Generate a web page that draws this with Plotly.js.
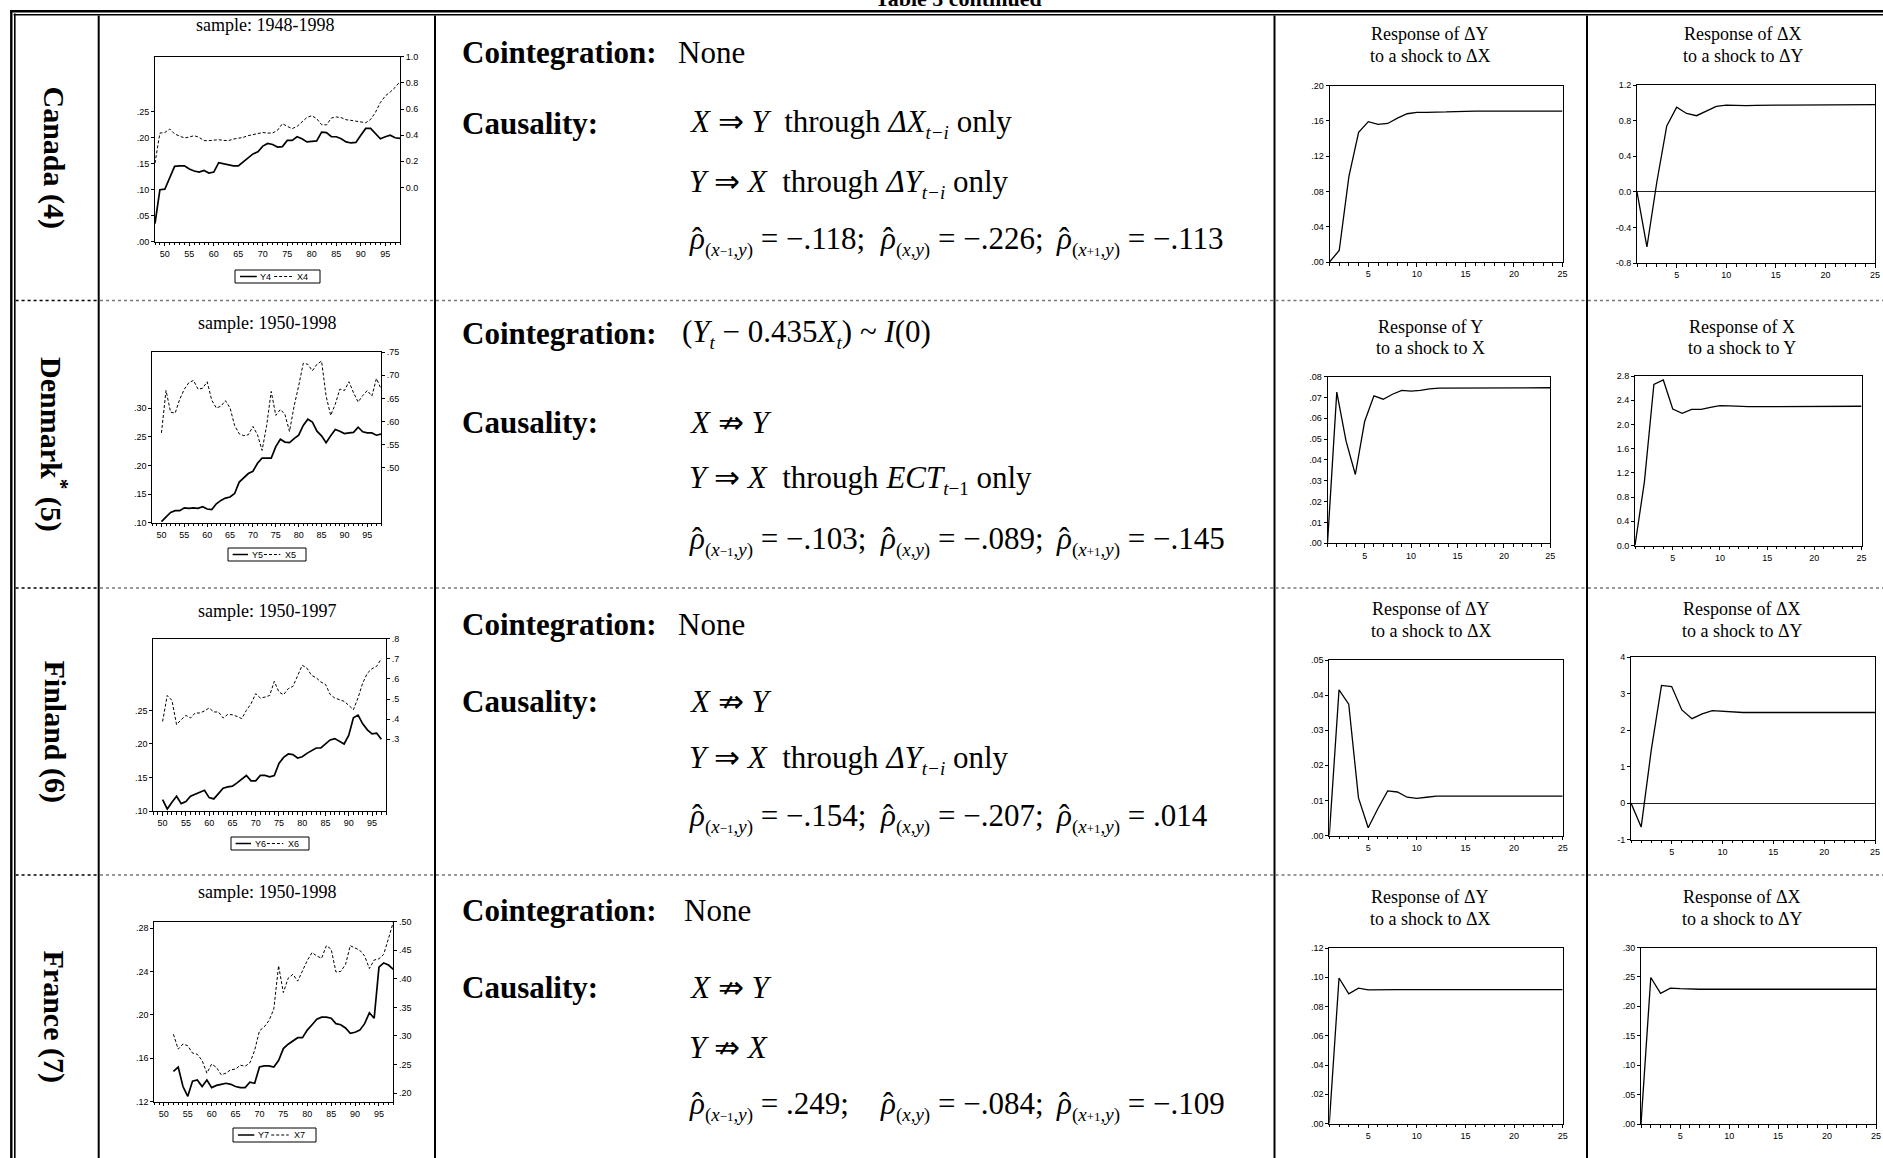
<!DOCTYPE html>
<html><head><meta charset="utf-8">
<script src="https://cdn.plot.ly/plotly-3.0.1.min.js"></script>
<style>html,body{margin:0;padding:0;background:#fff}</style>
</head><body>
<div id="chart" style="width:1883px;height:1158px"></div>
<script>
// ---------------- DATA ----------------
const countryLabels = ['Canada (4)', 'Denmark<sup>*</sup> (5)', 'Finland (6)', 'France (7)'];
const sampleLabels = ['sample: 1948-1998', 'sample: 1950-1998', 'sample: 1950-1997', 'sample: 1950-1998'];
const seriesNames = [['Y4','X4'],['Y5','X5'],['Y6','X6'],['Y7','X7']];

// Canada (first year 48)
const canadaStart = 48;
const canadaY4 = [0.035,0.100,0.101,0.123,0.145,0.146,0.146,0.140,0.136,0.134,
  0.137,0.132,0.134,0.152,0.150,0.147,0.146,0.146,0.154,0.161,
  0.169,0.173,0.184,0.189,0.187,0.182,0.183,0.195,0.195,0.202,
  0.198,0.192,0.193,0.194,0.211,0.210,0.202,0.202,0.198,0.192,
  0.190,0.191,0.205,0.218,0.218,0.208,0.198,0.202,0.205,0.200,0.199];
const canadaX4 = [0.186,0.416,0.420,0.447,0.409,0.396,0.378,0.386,0.396,0.383,
  0.358,0.358,0.360,0.365,0.360,0.358,0.370,0.375,0.383,0.396,
  0.404,0.416,0.420,0.416,0.416,0.437,0.488,0.467,0.450,0.467,
  0.498,0.535,0.549,0.526,0.480,0.478,0.531,0.539,0.534,0.518,
  0.513,0.506,0.498,0.495,0.520,0.575,0.650,0.700,0.730,0.765,0.810];

// Denmark (first year 50)
const denmarkStart = 50;
const denmarkY5 = [0.102,0.110,0.118,0.121,0.121,0.126,0.125,0.126,0.125,0.128,
  0.124,0.123,0.133,0.139,0.143,0.145,0.151,0.171,0.178,0.186,
  0.190,0.204,0.213,0.213,0.213,0.233,0.246,0.241,0.240,0.247,
  0.253,0.270,0.281,0.276,0.260,0.252,0.240,0.252,0.263,0.260,
  0.256,0.257,0.258,0.267,0.259,0.257,0.257,0.253,0.255];
const denmarkX5 = [0.575,0.667,0.620,0.618,0.648,0.670,0.684,0.689,0.670,0.672,
  0.686,0.646,0.629,0.633,0.645,0.629,0.591,0.573,0.569,0.571,
  0.589,0.571,0.537,0.591,0.665,0.613,0.626,0.615,0.578,0.633,
  0.677,0.726,0.724,0.710,0.724,0.731,0.655,0.613,0.637,0.670,
  0.667,0.686,0.662,0.642,0.656,0.667,0.655,0.693,0.671];

// Finland (first year 50)
const finlandStart = 50;
const finlandY6 = [0.117,0.103,0.113,0.122,0.111,0.114,0.122,0.125,0.127,0.131,
  0.120,0.118,0.126,0.134,0.136,0.137,0.142,0.148,0.153,0.145,
  0.145,0.153,0.153,0.151,0.153,0.171,0.180,0.185,0.184,0.179,
  0.181,0.186,0.190,0.194,0.194,0.200,0.206,0.208,0.204,0.200,
  0.213,0.239,0.243,0.230,0.221,0.215,0.216,0.207];
const finlandX6 = [0.389,0.518,0.494,0.373,0.398,0.419,0.406,0.431,0.431,0.441,
  0.456,0.436,0.436,0.406,0.424,0.422,0.414,0.403,0.444,0.477,
  0.527,0.505,0.510,0.518,0.588,0.535,0.522,0.552,0.563,0.613,
  0.668,0.654,0.618,0.606,0.585,0.573,0.523,0.505,0.497,0.489,
  0.469,0.447,0.507,0.580,0.629,0.651,0.663,0.701];

// France (first year 52)
const franceStart = 52;
const franceY7 = [0.148,0.152,0.134,0.125,0.139,0.140,0.134,0.140,0.133,0.135,
  0.136,0.137,0.136,0.134,0.133,0.133,0.138,0.137,0.152,0.153,
  0.153,0.152,0.158,0.169,0.173,0.176,0.179,0.179,0.186,0.191,
  0.196,0.198,0.198,0.197,0.192,0.191,0.188,0.183,0.184,0.186,
  0.192,0.202,0.197,0.244,0.248,0.246,0.242];
const franceX7 = [0.303,0.277,0.286,0.283,0.270,0.268,0.257,0.235,0.251,0.245,
  0.232,0.235,0.241,0.242,0.249,0.247,0.253,0.275,0.309,0.316,
  0.327,0.347,0.423,0.376,0.401,0.408,0.396,0.414,0.432,0.446,
  0.440,0.436,0.458,0.452,0.412,0.413,0.425,0.458,0.454,0.450,
  0.440,0.418,0.433,0.435,0.443,0.470,0.499];

// Impulse responses, periods 1..25
const irfTitles = [
  [['Response of ΔY','to a shock to ΔX'],['Response of ΔX','to a shock to ΔY']],
  [['Response of Y','to a shock to X'],['Response of X','to a shock to Y']],
  [['Response of ΔY','to a shock to ΔX'],['Response of ΔX','to a shock to ΔY']],
  [['Response of ΔY','to a shock to ΔX'],['Response of ΔX','to a shock to ΔY']]
];
const irfCanadaYX = [0,0.013,0.097,0.147,0.159,0.156,0.157,0.163,0.168,0.1695,0.1695,0.1695,0.170,0.1705,0.171,0.171,0.171,0.171,0.171,0.171,0.171,0.171,0.171,0.171,0.171];
const irfCanadaXY = [0,-0.62,0.11,0.74,0.95,0.88,0.855,0.91,0.96,0.975,0.97,0.968,0.97,0.975,0.975,0.975,0.975,0.975,0.975,0.98,0.98,0.98,0.978,0.98,0.98];
const irfDenmarkYX = [0,0.0725,0.049,0.033,0.0584,0.0707,0.0691,0.0715,0.0733,0.0730,0.0733,0.0741,0.0744,0.0744,0.0746,0.0746,0.0746,0.0746,0.0746,0.0746,0.0746,0.0746,0.0746,0.0746,0.0746];
const irfDenmarkXY = [0,1.056,2.662,2.734,2.255,2.184,2.25,2.25,2.283,2.31,2.305,2.294,2.294,2.294,2.294,2.294,2.305,2.294,2.294,2.30,2.30,2.30,2.30,2.30,2.30];
const irfFinlandYX = [0,0.0415,0.0374,0.0107,0.0022,0.0077,0.0127,0.0124,0.0109,0.0106,0.0109,0.0112,0.0112,0.0112,0.0112,0.0112,0.0112,0.0112,0.0112,0.0112,0.0112,0.0112,0.0112,0.0112,0.0112];
const irfFinlandXY = [0,-0.66,1.46,3.22,3.19,2.55,2.31,2.44,2.53,2.51,2.48,2.48,2.48,2.48,2.48,2.48,2.48,2.48,2.48,2.48,2.48,2.48,2.48,2.48,2.48];
const irfFranceYX = [0,0.0995,0.0886,0.0925,0.0914,0.0916,0.0916,0.0916,0.0916,0.0916,0.0916,0.0916,0.0916,0.0916,0.0916,0.0916,0.0916,0.0916,0.0916,0.0916,0.0916,0.0916,0.0916,0.0916,0.0916];
const irfFranceXY = [0,0.249,0.222,0.231,0.230,0.229,0.229,0.229,0.229,0.229,0.229,0.229,0.229,0.229,0.229,0.229,0.229,0.229,0.229,0.229,0.229,0.229,0.229,0.229,0.229];

// Tick labels
const tvCanadaL = [0,0.05,0.10,0.15,0.20,0.25], ttCanadaL = ['.00','.05','.10','.15','.20','.25'];
const tvCanadaR = [0,0.2,0.4,0.6,0.8,1.0], ttCanadaR = ['0.0','0.2','0.4','0.6','0.8','1.0'];
const tvDenmarkL = [0.10,0.15,0.20,0.25,0.30], ttDenmarkL = ['.10','.15','.20','.25','.30'];
const tvDenmarkR = [0.50,0.55,0.60,0.65,0.70,0.75], ttDenmarkR = ['.50','.55','.60','.65','.70','.75'];
const tvFinlandL = [0.10,0.15,0.20,0.25], ttFinlandL = ['.10','.15','.20','.25'];
const tvFinlandR = [0.3,0.4,0.5,0.6,0.7,0.8], ttFinlandR = ['.3','.4','.5','.6','.7','.8'];
const tvFranceL = [0.12,0.16,0.20,0.24,0.28], ttFranceL = ['.12','.16','.20','.24','.28'];
const tvFranceR = [0.20,0.25,0.30,0.35,0.40,0.45,0.50], ttFranceR = ['.20','.25','.30','.35','.40','.45','.50'];

const tvIrfCA1 = [0,0.04,0.08,0.12,0.16,0.20], ttIrfCA1 = ['.00','.04','.08','.12','.16','.20'];
const tvIrfCA2 = [-0.8,-0.4,0,0.4,0.8,1.2], ttIrfCA2 = ['-0.8','-0.4','0.0','0.4','0.8','1.2'];
const tvIrfDK1 = [0,0.01,0.02,0.03,0.04,0.05,0.06,0.07,0.08], ttIrfDK1 = ['.00','.01','.02','.03','.04','.05','.06','.07','.08'];
const tvIrfDK2 = [0,0.4,0.8,1.2,1.6,2.0,2.4,2.8], ttIrfDK2 = ['0.0','0.4','0.8','1.2','1.6','2.0','2.4','2.8'];
const tvIrfFI1 = [0,0.01,0.02,0.03,0.04,0.05], ttIrfFI1 = ['.00','.01','.02','.03','.04','.05'];
const tvIrfFI2 = [-1,0,1,2,3,4], ttIrfFI2 = ['-1','0','1','2','3','4'];
const tvIrfFR1 = [0,0.02,0.04,0.06,0.08,0.10,0.12], ttIrfFR1 = ['.00','.02','.04','.06','.08','.10','.12'];
const tvIrfFR2 = [0,0.05,0.10,0.15,0.20,0.25,0.30], ttIrfFR2 = ['.00','.05','.10','.15','.20','.25','.30'];

// Text of the middle column
const NB = '\u00A0';
function sb(t){return '<sub><span style="font-size:19px">'+t+'</span></sub>';}
function sbs(t){return '<span style="font-size:13px">'+t+'</span>';}
const rhoSubs = [sb('(<i>x</i>'+sbs('−1')+',<i>y</i>)'), sb('(<i>x</i>,<i>y</i>)'), sb('(<i>x</i>'+sbs('+1')+',<i>y</i>)')];
const rhoValues = [['−.118','−.226','−.113'], ['−.103','−.089','−.145'], ['−.154','−.207','.014'], ['.249','−.084','−.109']];
const cointText = ['None', '(<i>Y</i>'+sb('<i>t</i>')+' − 0.435<i>X</i>'+sb('<i>t</i>')+') ~ <i>I</i>(0)', 'None', 'None'];
const causLine1 = [
  '<i>X</i> ⇒ <i>Y</i>'+NB+NB+'through <i>ΔX</i>'+sb('<i>t−i</i>')+' only',
  '<i>X</i> ⇏ <i>Y</i>',
  '<i>X</i> ⇏ <i>Y</i>',
  '<i>X</i> ⇏ <i>Y</i>'];
const causLine2 = [
  '<i>Y</i> ⇒ <i>X</i>'+NB+NB+'through <i>ΔY</i>'+sb('<i>t−i</i>')+' only',
  '<i>Y</i> ⇒ <i>X</i>'+NB+NB+'through <i>ECT</i>'+sb('<i>t</i>−1')+' only',
  '<i>Y</i> ⇒ <i>X</i>'+NB+NB+'through <i>ΔY</i>'+sb('<i>t−i</i>')+' only',
  '<i>Y</i> ⇏ <i>X</i>'];

// ---------------- LAYOUT ----------------
const W = 1883, H = 1158;
const SERIF = 'Liberation Serif, Times New Roman, serif';
const SANS = 'Liberation Sans, Arial, sans-serif';
function px(x){return x/W;}
function py(y){return 1 - y/H;}

const layout = {
  width: W, height: H, margin:{l:0,r:0,t:0,b:0},
  paper_bgcolor:'#ffffff', plot_bgcolor:'rgba(0,0,0,0)', showlegend:false,
  font:{family:SANS, size:9, color:'#000'},
  annotations:[], shapes:[]
};
const traces = [];
let xi = 0, yi = 0;
function nextX(){xi++; return xi===1?['xaxis','x']:['xaxis'+xi,'x'+xi];}
function nextY(){yi++; return yi===1?['yaxis','y']:['yaxis'+yi,'y'+yi];}
function axisBase(){
  return {showgrid:false, zeroline:false, showline:true, linecolor:'#000', linewidth:1, mirror:true,
    ticks:'outside', ticklen:4, tickwidth:1, tickcolor:'#000', tickfont:{size:9, family:SANS, color:'#000'},
    fixedrange:true};
}
function ann(x,y,text,o){
  layout.annotations.push(Object.assign({xref:'paper', yref:'paper', x:px(x), y:py(y), text:text,
    showarrow:false, xanchor:'center', yanchor:'middle', font:{family:SERIF, size:18, color:'#000'}}, o||{}));
}
function line(x0,y0,x1,y1,w,c,dash){
  layout.shapes.push({type:'line', xref:'paper', yref:'paper', x0:px(x0), y0:py(y0), x1:px(x1), y1:py(y1),
    line:{color:c||'#000', width:w, dash:dash||'solid'}});
}
function periods(arr, start){return arr.map((_,i)=>start+i);}

function seriesChart(box, start, Y, X, lRange, ltv, ltt, rRange, rtv, rtt){
  const [xn, xid] = nextX(); const [yln, ylid] = nextY(); const [yrn, yrid] = nextY();
  layout[xn] = Object.assign(axisBase(), {domain:[px(box[0]),px(box[1])], anchor:ylid, range:[48,98],
    tickmode:'linear', tick0:50, dtick:5, ticklen:3.5,
    minor:{tick0:48, dtick:1, ticks:'outside', ticklen:2.5, tickcolor:'#000', tickwidth:1, showgrid:false}});
  layout[yln] = Object.assign(axisBase(), {domain:[py(box[3]),py(box[2])], anchor:xid, range:lRange,
    tickmode:'array', tickvals:ltv, ticktext:ltt, ticklen:3});
  layout[yrn] = Object.assign(axisBase(), {overlaying:ylid, side:'right', anchor:xid, range:rRange,
    tickmode:'array', tickvals:rtv, ticktext:rtt, mirror:false, ticklen:3});
  traces.push({type:'scatter', mode:'lines', x:periods(Y, start), y:Y, xaxis:xid, yaxis:ylid,
    line:{color:'#000', width:1.7}, hoverinfo:'skip'});
  traces.push({type:'scatter', mode:'lines', x:periods(X, start), y:X, xaxis:xid, yaxis:yrid,
    line:{color:'#000', width:1, dash:'3px,2px'}, hoverinfo:'skip'});
}
function irfChart(box, vals, yRange, tv, tt, zero){
  const [xn, xid] = nextX(); const [yn, yid] = nextY();
  layout[xn] = Object.assign(axisBase(), {domain:[px(box[0]),px(box[1])], anchor:yid, range:[1,25],
    tickmode:'linear', tick0:0, dtick:5, ticklen:3.5,
    minor:{tick0:0, dtick:1, ticks:'outside', ticklen:2.5, tickcolor:'#000', tickwidth:1, showgrid:false}});
  layout[yn] = Object.assign(axisBase(), {domain:[py(box[3]),py(box[2])], anchor:xid, range:yRange,
    tickmode:'array', tickvals:tv, ticktext:tt, ticklen:3,
    zeroline:!!zero, zerolinecolor:'#222', zerolinewidth:1});
  traces.push({type:'scatter', mode:'lines', x:periods(vals,1), y:vals, xaxis:xid, yaxis:yid,
    line:{color:'#000', width:1.3}, hoverinfo:'skip'});
}
function legendBox(x0,x1,y0,y1,names){
  const w = x1-x0, yc = (y0+y1)/2, s = w/76;
  layout.shapes.push({type:'rect', xref:'paper', yref:'paper', x0:px(x0), x1:px(x1), y0:py(y0), y1:py(y1),
    line:{color:'#000', width:1}, fillcolor:'rgba(0,0,0,0)'});
  line(x0+4.5*s, yc, x0+19.5*s, yc, 1.5, '#000');
  ann(x0+21*s, yc, names[0], {xanchor:'left', font:{family:SANS, size:9, color:'#000'}});
  line(x0+35*s, yc, x0+51*s, yc, 1, '#000', '3px,2px');
  ann(x0+54*s, yc, names[1], {xanchor:'left', font:{family:SANS, size:9, color:'#000'}});
}

// Left series charts
const seriesBoxes = [[155,400,56.7,241.7],[152.3,381,352.3,522.7],[153.3,386,638.7,811],[154.3,393.3,921.7,1101.7]];
seriesChart(seriesBoxes[0], canadaStart, canadaY4, canadaX4, [0,0.356], tvCanadaL, ttCanadaL, [-0.415,1.0], tvCanadaR, ttCanadaR);
seriesChart(seriesBoxes[1], denmarkStart, denmarkY5, denmarkX5, [0.10,0.398], tvDenmarkL, ttDenmarkL, [0.380,0.75], tvDenmarkR, ttDenmarkR);
seriesChart(seriesBoxes[2], finlandStart, finlandY6, finlandX6, [0.10,0.357], tvFinlandL, ttFinlandL, [-0.056,0.8], tvFinlandR, ttFinlandR);
seriesChart(seriesBoxes[3], franceStart, franceY7, franceX7, [0.12,0.286], tvFranceL, ttFranceL, [0.185,0.50], tvFranceR, ttFranceR);

// IRF charts
irfChart([1329.5,1562.5,85.5,262], irfCanadaYX, [0,0.20], tvIrfCA1, ttIrfCA1, false);
irfChart([1637,1875,85,263], irfCanadaXY, [-0.8,1.2], tvIrfCA2, ttIrfCA2, true);
irfChart([1327.5,1550.3,376.5,543.3], irfDenmarkYX, [0,0.08], tvIrfDK1, ttIrfDK1, false);
irfChart([1635,1861.5,376,545.5], irfDenmarkXY, [0,2.8], tvIrfDK2, ttIrfDK2, false);
irfChart([1329.3,1562.7,660,835.5], irfFinlandYX, [0,0.05], tvIrfFI1, ttIrfFI1, false);
irfChart([1631,1875,657,839.5], irfFinlandXY, [-1,4], tvIrfFI2, ttIrfFI2, true);
irfChart([1329.3,1562.7,948,1123.5], irfFranceYX, [0,0.12], tvIrfFR1, ttIrfFR1, false);
irfChart([1641,1876,947.5,1124], irfFranceXY, [0,0.30], tvIrfFR2, ttIrfFR2, false);

// Titles for small charts
const sampleTitleY = [25, 323, 611, 892];
const sampleTitleX = [265, 267, 267, 267];
const irfTitleY = [[34.5,56],[326.7,348.3],[608.5,630.5],[897,918.5]];
const irfTitleX = [[1430,1743],[1430,1742],[1431,1742],[1430,1742]];
for (let r=0; r<4; r++){
  ann(sampleTitleX[r], sampleTitleY[r], sampleLabels[r], {font:{family:SERIF, size:18, color:'#000'}});
  for (let c=0; c<2; c++){
    ann(irfTitleX[r][c], irfTitleY[r][0], irfTitles[r][c][0], {font:{family:SERIF, size:18, color:'#000'}});
    ann(irfTitleX[r][c], irfTitleY[r][1], irfTitles[r][c][1], {font:{family:SERIF, size:18, color:'#000'}});
  }
}
// Legends
const legendBoxes = [[235,320,270,283],[228,306,548,561],[231,309,837,850],[233,316,1128,1142]];
legendBoxes.forEach((b,r)=>legendBox(b[0],b[1],b[2],b[3],seriesNames[r]));

// Country labels
const rowCenters = [157.5, 444, 731.5, 1016.5];
rowCenters.forEach((yc,r)=>ann(54, yc, '<b>'+countryLabels[r]+'</b>', {textangle:90, font:{family:SERIF, size:30, color:'#000'}}));

// Middle text
const cointY = [52.8, 333.9, 624.5, 910.3];
const cointX = [676, 680, 676, 682];
const causY = [123.7, 422.7, 701.3, 987.1];
const line2Y = [183.7, 479.2, 759, 1047.2];
const rhoTop = [219.5, 518.5, 796, 1084];
const rhoX = [687, 878, 1054];
const bigFont = {family:SERIF, size:31, color:'#000'};
for (let r=0; r<4; r++){
  ann(460, cointY[r], '<b>Cointegration:</b>', {xanchor:'left', font:bigFont});
  ann(cointX[r], cointY[r], cointText[r], {xanchor:'left', font:bigFont});
  ann(460, causY[r], '<b>Causality:</b>', {xanchor:'left', font:bigFont});
  ann(687, causY[r], causLine1[r], {xanchor:'left', font:bigFont});
  ann(687, line2Y[r], causLine2[r], {xanchor:'left', font:bigFont});
  for (let k=0; k<3; k++){
    const seg = '<i>ρ</i>' + rhoSubs[k] + ' = ' + rhoValues[r][k] + (k<2 ? ';' : '');
    ann(rhoX[k], rhoTop[r], seg, {xanchor:'left', yanchor:'top', font:bigFont});
    ann(rhoX[k]+10, rhoTop[r], 'ˆ', {xanchor:'center', yanchor:'top', font:bigFont});
  }
}

// Page title (cut at the top edge)
ann(958, -1.5, '<b>Table 5 continued</b>', {font:{family:SERIF, size:22, color:'#000'}});

// Table rules
line(10, 11.3, W, 11.3, 2.4);
line(13.6, 14.8, W, 14.8, 1.6);
line(11.3, 10, 11.3, H, 2.4);
line(14.8, 13.6, 14.8, H, 1.6);
[98.7, 435, 1274.5, 1587].forEach(x=>line(x, 15.5, x, H, 2));
[300.5, 588, 875].forEach(y=>{
  line(15.6, y, 97.7, y, 1.5, '#000', 'dot');
  line(100, y, 434, y, 1.3, '#777', 'dot');
  line(436, y, 1273.5, y, 1.3, '#777', 'dot');
  line(1275.5, y, 1586, y, 1.3, '#777', 'dot');
  line(1588, y, W, y, 1.3, '#777', 'dot');
});

Plotly.newPlot('chart', traces, layout, {staticPlot:true, displayModeBar:false});
</script>
</body></html>
